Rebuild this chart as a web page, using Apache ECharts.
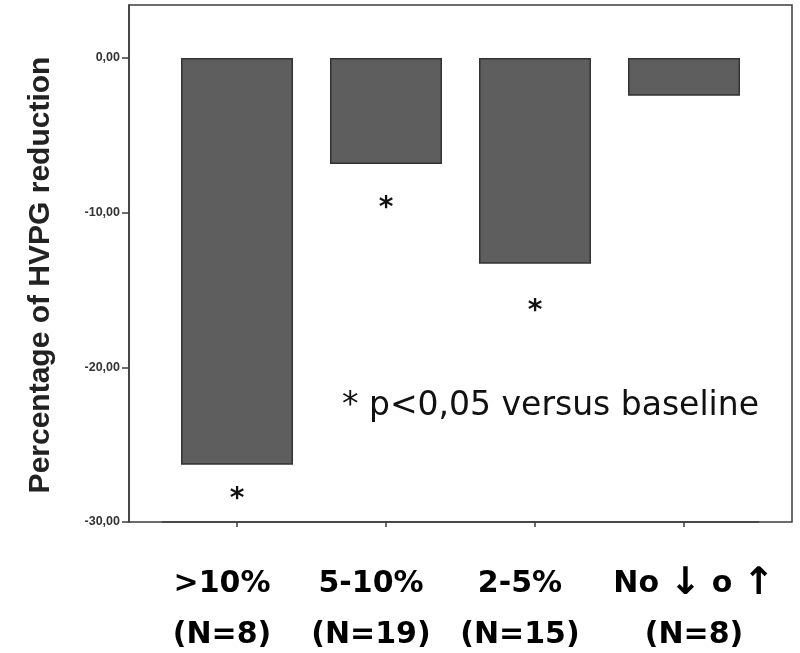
<!DOCTYPE html>
<html>
<head>
<meta charset="utf-8">
<script src="https://cdn.jsdelivr.net/npm/echarts@6/dist/echarts.min.js"></script>
<style>
  html, body { margin: 0; padding: 0; background: #fff; }
  #chart { width: 800px; height: 653px; }
</style>
</head>
<body>
<div id="chart"></div>
<script>
// Groups by HVPG response and their sizes
const categories = ['>10%', '5-10%', '2-5%', 'No \u2193 o \u2191'];
const groupSizes = ['(N=8)', '(N=19)', '(N=15)', '(N=8)'];
// Mean percentage change of HVPG per group
const hvpgChange = [-26.3, -6.85, -13.3, -2.43];
// Groups with p<0,05 versus baseline
const significant = [true, true, true, false];
// Y axis tick values
const yTicks = [-30, -20, -10, 0];

// Gap between the bar end and its asterisk, per group
const starGap = [21, 31, 34, 0];
// Horizontal nudge for each group's two-line label
const labelStyleFor = ['l', 'l', 'l', 'r'];

const labelFont = {
  fontFamily: 'DejaVu Sans', fontWeight: 'bold', fontSize: 30,
  color: '#000', lineHeight: 51
};

// Builds one rich-text line; arrows get a larger glyph
function richLine(text, style) {
  const parts = text.split(/([\u2190-\u21FF])/).filter((p) => p !== '');
  return parts.map((p, k) => {
    const isArrow = /[\u2190-\u21FF]/.test(p);
    const st = isArrow ? 'arrow' : (k === 0 ? style : 'plain');
    return '{' + st + '|' + p + '}';
  }).join('');
}

const chart = echarts.init(document.getElementById('chart'));

const option = {
  animation: false,
  backgroundColor: '#ffffff',
  grid: [
    // plotting grid: category bands of the bars
    { left: 162.5, right: 41.5, top: 5, bottom: 131 },
    // outer frame of the plot
    {
      left: 129, right: 8, top: 5, bottom: 131,
      show: true, borderColor: '#3c3c3c', borderWidth: 1.5,
      backgroundColor: 'transparent'
    }
  ],
  xAxis: [
    {
      gridIndex: 0,
      type: 'category',
      data: categories,
      boundaryGap: true,
      axisLine: { show: true, onZero: false, lineStyle: { color: '#3c3c3c', width: 1.5 } },
      axisTick: {
        show: true, length: 5, alignWithLabel: true, interval: 0,
        lineStyle: { color: '#3c3c3c', width: 1.5 }
      },
      axisLabel: {
        interval: 0,
        margin: 37,
        formatter: (v, i) => {
          const s = labelStyleFor[i];
          return richLine(categories[i], s) + '\n' + richLine(groupSizes[i], s);
        },
        rich: {
          l: Object.assign({ padding: [0, 30, 0, 0] }, labelFont),
          r: Object.assign({ padding: [0, 0, 0, 20] }, labelFont),
          plain: Object.assign({}, labelFont),
          arrow: Object.assign({}, labelFont, { fontSize: 38 })
        }
      }
    },
    { gridIndex: 1, type: 'value', show: false, min: 0, max: 1 }
  ],
  yAxis: [
    {
      gridIndex: 0,
      type: 'value',
      min: -30,
      max: 3.43,
      offset: 33.5,
      splitLine: { show: false },
      axisLine: { show: true, lineStyle: { color: '#3c3c3c', width: 1.5 } },
      axisTick: {
        show: true, length: 7, customValues: yTicks,
        lineStyle: { color: '#3c3c3c', width: 1.5 }
      },
      axisLabel: {
        customValues: yTicks,
        margin: 9,
        fontFamily: 'Liberation Sans',
        fontWeight: 'bold',
        fontSize: 12.5,
        color: '#333',
        formatter: (v) => v.toFixed(2).replace('.', ',')
      }
    },
    { gridIndex: 1, type: 'value', show: false, min: 0, max: 1 }
  ],
  series: [{
    type: 'bar',
    xAxisIndex: 0,
    yAxisIndex: 0,
    barWidth: 112,
    data: hvpgChange.map((v, i) => ({
      value: v,
      label: {
        show: significant[i],
        position: 'bottom',
        distance: starGap[i],
        formatter: '*',
        fontFamily: 'DejaVu Sans',
        fontWeight: 'bold',
        fontSize: 28,
        color: '#111'
      }
    })),
    itemStyle: {
      color: '#5e5e5e',
      borderColor: '#333333',
      borderWidth: 1.5
    }
  }],
  graphic: [
    {
      type: 'text',
      x: 41, y: 275,
      rotation: Math.PI / 2,
      style: {
        text: 'Percentage of HVPG reduction',
        fontFamily: 'Liberation Sans',
        fontWeight: 'bold',
        fontSize: 30,
        fill: '#222',
        align: 'center',
        verticalAlign: 'middle'
      }
    },
    {
      type: 'text',
      x: 342, y: 406,
      style: {
        text: '* p<0,05 versus baseline',
        fontFamily: 'DejaVu Sans',
        fontSize: 33,
        fill: '#111',
        align: 'left',
        verticalAlign: 'middle'
      }
    }
  ]
};

chart.setOption(option);
</script>
</body>
</html>
